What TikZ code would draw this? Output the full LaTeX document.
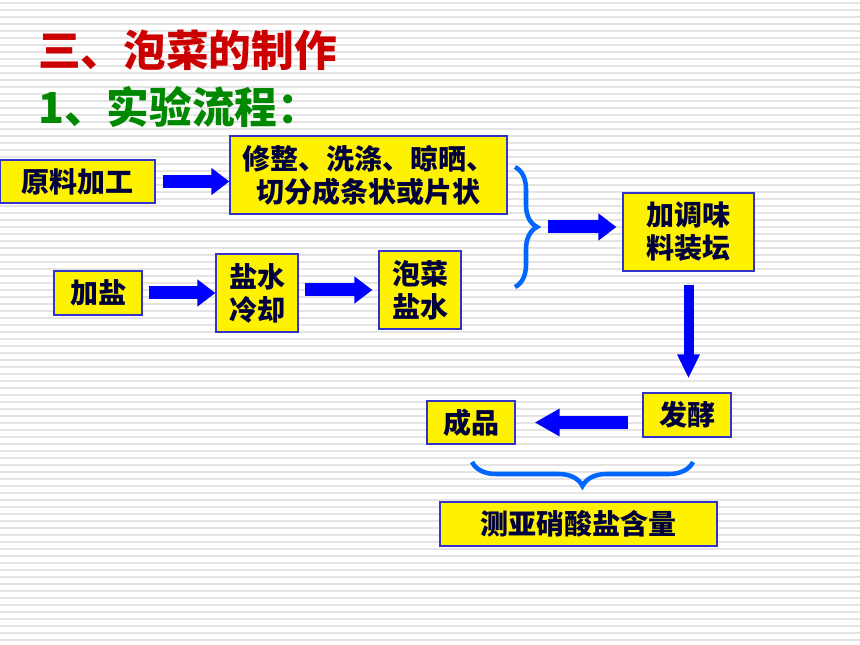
\documentclass[tikz,border=0pt]{standalone}
\usepackage{fontspec}
\newfontfamily\cjk{Noto Sans CJK SC}
\usetikzlibrary{arrows.meta,decorations.pathreplacing}
\definecolor{titlered}{RGB}{204,0,0}
\definecolor{titlegreen}{RGB}{0,136,0}
\definecolor{boxline}{RGB}{51,51,204}
\definecolor{navy}{RGB}{0,0,60}
\definecolor{arrowblue}{RGB}{0,0,255}
\definecolor{braceblue}{RGB}{0,102,255}
\definecolor{stripe}{RGB}{228,228,228}
\begin{document}
\begin{tikzpicture}[x=0.75pt,y=-0.75pt,
  box/.style={draw=boxline, line width=0.9pt, fill=yellow, text=navy,
    font=\cjk\bfseries\fontsize{21}{24.75}\selectfont, align=center, inner sep=0pt},
  titletext/.style={font=\cjk\bfseries\fontsize{32}{36}\selectfont, anchor=west, inner sep=0pt},
  flow/.style={draw=arrowblue, line width=9.75pt, -{Triangle[length=13.5pt,width=19.5pt]}},
  bracestyle/.style={draw=braceblue, line width=3.4pt, decorate}
]
\useasboundingbox (0,0) rectangle (860,645);
\fill[white] (0,0) rectangle (860,645);
\foreach \yy in {3,10,...,645} \draw[stripe, line width=1.1pt] (0,\yy) -- (860,\yy);

\node[titletext, text=titlered] (t1) at (38,50) {三、泡菜的制作};
\node[titletext, text=titlegreen] (t2) at (38,107) {1、实验流程：};

\node[box, minimum width=116.25pt, minimum height=32.25pt] (A) at (77.5,181.5) {原料加工};
\node[box, minimum width=207.75pt, minimum height=58.5pt] (B) at (368.5,175) {修整、洗涤、晾晒、\\切分成条状或片状};
\node[box, minimum width=66pt, minimum height=33pt] (C) at (98,293) {加盐};
\node[box, minimum width=61.5pt, minimum height=58.5pt] (D) at (257,293) {盐水\\冷却};
\node[box, minimum width=61.5pt, minimum height=58.5pt] (E) at (420,290) {泡菜\\盐水};
\node[box, minimum width=98.25pt, minimum height=58.5pt] (F) at (688.5,232) {加调味\\料装坛};
\node[box, minimum width=66pt, minimum height=33pt] (G) at (687,415) {发酵};
\node[box, minimum width=66pt, minimum height=32.25pt] (H) at (471,422.5) {成品};
\node[box, minimum width=207.75pt, minimum height=33pt] (I) at (578.5,524) {测亚硝酸盐含量};

\coordinate (r1) at (515,167);
\coordinate (r2) at (515,287);
\coordinate (bt) at (537,227);
\coordinate (b1) at (693,462);
\coordinate (b2) at (472,462);

\draw[bracestyle, decoration={brace, amplitude=16.5pt}] (r1) -- (r2);
\draw[bracestyle, decoration={brace, amplitude=18pt}] (b1) -- (b2);

\draw[flow, shorten <=5.25pt] (A.east) -- (A.east -| B.west);
\draw[flow, shorten <=4.5pt] (C.east) -- (D.west);
\draw[flow, shorten <=4.5pt, shorten >=4.5pt] (D.east |- E.west) -- (E.west);
\draw[flow, shorten <=8.25pt, shorten >=4.5pt] (bt) -- (bt -| F.west);
\draw[draw=arrowblue, line width=7.5pt, -{Triangle[length=18pt,width=15.75pt]}, shorten <=9.75pt, shorten >=10.5pt] (F.south) -- (F.south |- G.north);
\draw[draw=arrowblue, line width=9.75pt, -{Triangle[length=18.75pt,width=19.5pt]}, shorten <=10.5pt, shorten >=14.25pt] (G.west |- H.east) -- (H.east);
\end{tikzpicture}
\end{document}
